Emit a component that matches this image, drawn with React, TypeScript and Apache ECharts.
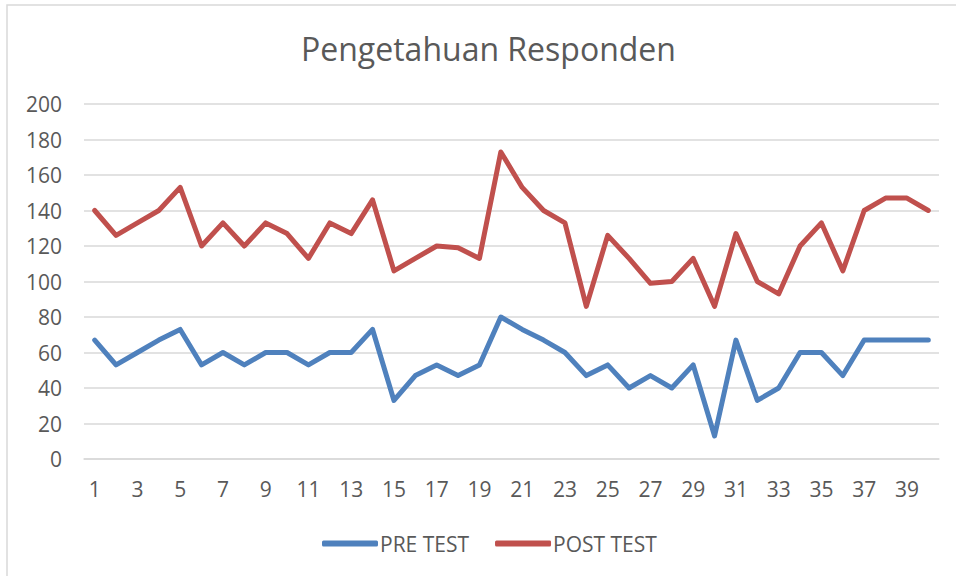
import React, { useEffect, useRef } from "react";
import * as echarts from "echarts";

const categories: string[] = Array.from({ length: 40 }, (_, i) => String(i + 1));

const preTest: number[] = [
  67, 53, 60, 67, 73, 53, 60, 53, 60, 60,
  53, 60, 60, 73, 33, 47, 53, 47, 53, 80,
  73, 67, 60, 47, 53, 40, 47, 40, 53, 13,
  67, 33, 40, 60, 60, 47, 67, 67, 67, 67,
];

const postTest: number[] = [
  140, 126, 133, 140, 153, 120, 133, 120, 133, 127,
  113, 133, 127, 146, 106, 113, 120, 119, 113, 173,
  153, 140, 133, 86, 126, 113, 99, 100, 113, 86,
  127, 100, 93, 120, 133, 106, 140, 147, 147, 140,
];

const yTicks = { min: 0, max: 200, interval: 20 };

export default function App() {
  const ref = useRef<HTMLDivElement>(null);
  useEffect(() => {
    if (!ref.current) return;
    const chart = echarts.init(ref.current, undefined, { renderer: "svg" });
    const font = "'Open Sans', sans-serif";
    chart.setOption({
      animation: false,
      backgroundColor: "#ffffff",
      title: {
        text: "Pengetahuan Responden",
        left: 296,
        top: 27,
        textStyle: {
          fontFamily: font,
          fontSize: 32,
          fontWeight: "normal",
          color: "#595959",
        },
      },
      graphic: [
        {
          type: "rect",
          shape: { x: 7, y: 5, width: 970, height: 600 },
          style: { fill: "none", stroke: "#d9d9d9", lineWidth: 1.5 },
          silent: true,
          z: -1,
        },
      ],
      legend: {
        left: 317,
        top: 528,
        icon: "roundRect",
        itemWidth: 56,
        itemHeight: 6,
        itemGap: 26,
        textStyle: { fontFamily: font, fontSize: 21, color: "#595959", padding: [0, 0, 0, -3] },
        data: ["PRE TEST", "POST TEST"],
      },
      grid: { left: 84, right: 17, top: 104, bottom: 117, containLabel: false },
      xAxis: {
        type: "category",
        data: categories,
        boundaryGap: true,
        axisTick: { show: false },
        axisLine: { lineStyle: { color: "#d9d9d9", width: 1.5 } },
        axisLabel: {
          interval: 1,
          margin: 19,
          fontFamily: font,
          fontSize: 21,
          color: "#595959",
        },
      },
      yAxis: {
        type: "value",
        min: yTicks.min,
        max: yTicks.max,
        interval: yTicks.interval,
        axisLine: { show: false },
        axisTick: { show: false },
        axisLabel: {
          margin: 22,
          fontFamily: font,
          fontSize: 21,
          color: "#595959",
        },
        splitLine: { lineStyle: { color: "#d9d9d9", width: 1.5 } },
      },
      series: [
        {
          name: "PRE TEST",
          type: "line",
          data: preTest,
          symbol: "none",
          itemStyle: { color: "#4f81bd" },
          lineStyle: { color: "#4f81bd", width: 5, cap: "round", join: "round" },
        },
        {
          name: "POST TEST",
          type: "line",
          data: postTest,
          symbol: "none",
          itemStyle: { color: "#c0504d" },
          lineStyle: { color: "#c0504d", width: 5, cap: "round", join: "round" },
        },
      ],
    });
    return () => chart.dispose();
  }, []);
  return (
    <div
      ref={ref}
      style={{ position: "absolute", left: 0, top: 0, width: 956, height: 576 }}
    />
  );
}
